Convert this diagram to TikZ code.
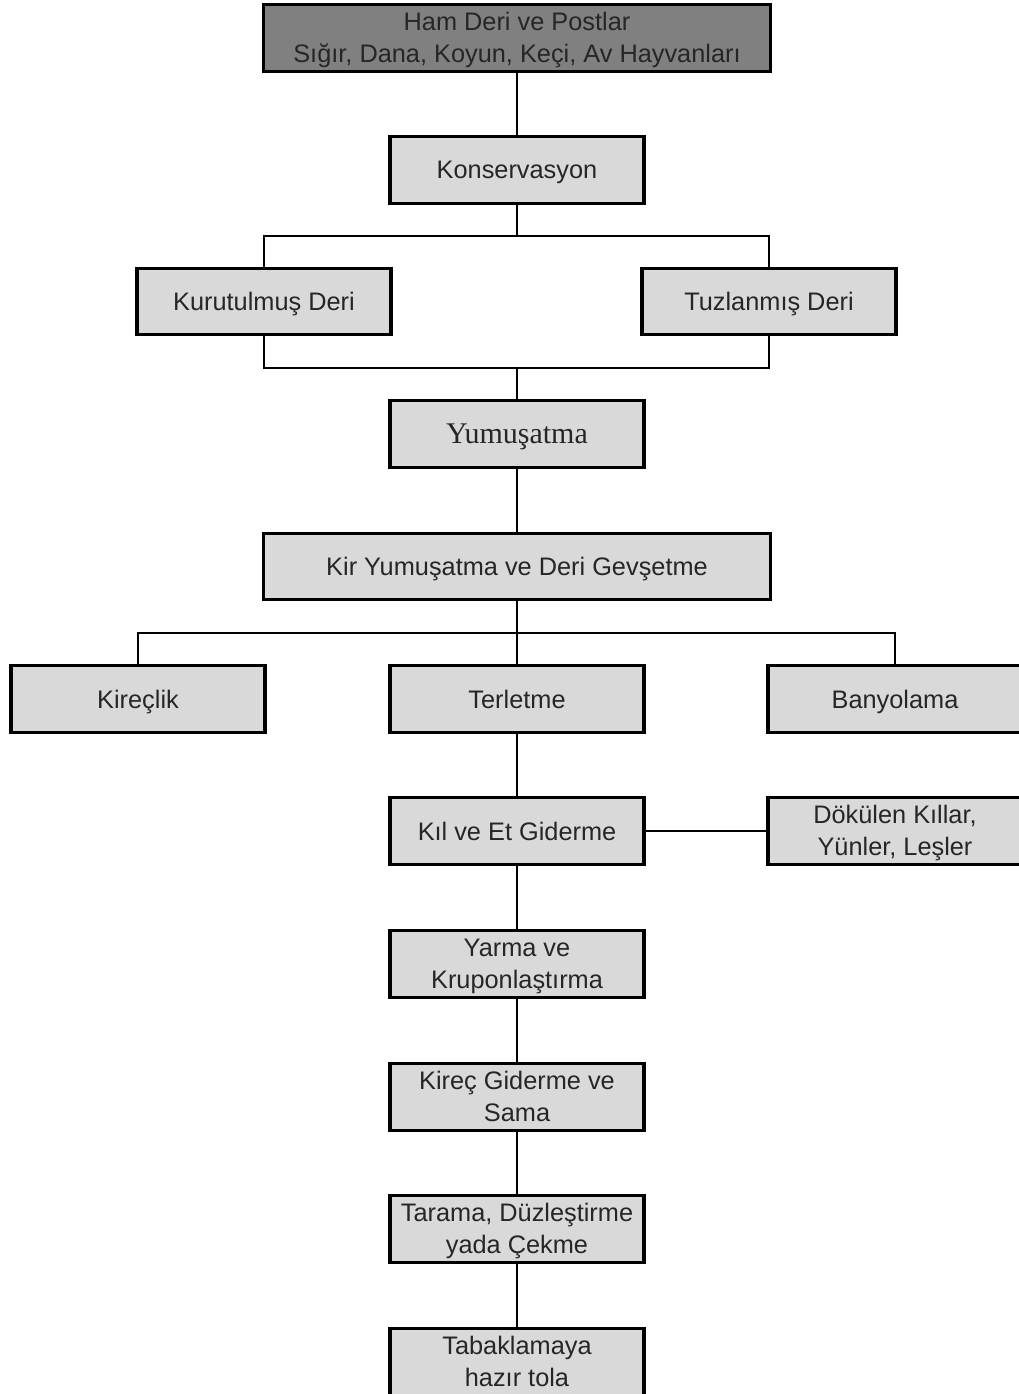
\documentclass[tikz,border=0pt]{standalone}
\usepackage{fontspec}
\setmainfont{Liberation Sans}
\newfontfamily\serifbox{Liberation Serif}
\definecolor{boxgray}{HTML}{D9D9D9}
\definecolor{darkbox}{HTML}{808080}
\definecolor{txt}{HTML}{262626}
\newcommand{\toprow}{\rule{0pt}{17.5pt}}
\newcommand{\lastrow}{\rule[-5pt]{0pt}{0pt}}
\begin{document}
\begin{tikzpicture}[x=0.75pt,y=-0.75pt,
  stepbox/.style={draw=black, line width=2.4pt, fill=boxgray, text=txt,
    minimum width=190.5pt, minimum height=49.8pt, inner sep=0pt, align=center,
    font=\fontsize{19pt}{24pt}\selectfont},
  onerow/.style={stepbox, text height=17.5pt, text depth=4pt},
  widebox/.style={minimum width=380.3pt},
  link/.style={draw=black, line width=1.1pt}]
\clip (0,0) rectangle (1019,1394);
\fill[white] (0,0) rectangle (1019,1394);

\node[stepbox, widebox, fill=darkbox] (ham) at (517,38) {\toprow Ham Deri ve Postlar\\Sığır, Dana, Koyun, Keçi, Av Hayvanları\lastrow};
\node[onerow] (kons) at (517,170) {Konservasyon};
\node[onerow] (kur) at (264,301.5) {Kurutulmuş Deri};
\node[onerow] (tuz) at (769,301.5) {Tuzlanmış Deri};
\node[onerow, font=\serifbox\fontsize{22.5pt}{24pt}\selectfont] (yum) at (517,434) {Yumuşatma};
\node[onerow, widebox] (kir) at (517,566.5) {Kir Yumuşatma ve Deri Gevşetme};
\node[onerow] (krc) at (138,699) {Kireçlik};
\node[onerow] (ter) at (517,699) {Terletme};
\node[onerow] (ban) at (895,699) {Banyolama};
\node[onerow] (kil) at (517,831) {Kıl ve Et Giderme};
\node[stepbox] (dok) at (895,831) {\toprow Dökülen Kıllar,\\Yünler, Leşler\lastrow};
\node[stepbox] (yar) at (517,964) {\toprow Yarma ve\\Kruponlaştırma\lastrow};
\node[stepbox] (kgs) at (517,1097) {\toprow Kireç Giderme ve\\Sama\lastrow};
\node[stepbox] (tar) at (517,1229) {\toprow Tarama, Düzleştirme\\yada Çekme\lastrow};
\node[stepbox] (tab) at (517,1362) {\toprow Tabaklamaya\\hazır tola\lastrow};

\coordinate (j1) at (517,236);
\coordinate (j2) at (517,368);
\coordinate (j3) at (517,633);

\draw[link] (ham.south) -- (kons.north);
\draw[link] (kons.south) -- (j1);
\draw[link] (kur.north) |- (j1) -| (tuz.north);
\draw[link] (kur.south) |- (j2) -| (tuz.south);
\draw[link] (j2) -- (yum.north);
\draw[link] (yum.south) -- (kir.north);
\draw[link] (kir.south) -- (j3);
\draw[link] (krc.north) |- (j3) -| (ban.north);
\draw[link] (j3) -- (ter.north);
\draw[link] (ter.south) -- (kil.north);
\draw[link] (kil.east) -- (dok.west);
\draw[link] (kil.south) -- (yar.north);
\draw[link] (yar.south) -- (kgs.north);
\draw[link] (kgs.south) -- (tar.north);
\draw[link] (tar.south) -- (tab.north);
\end{tikzpicture}
\end{document}
